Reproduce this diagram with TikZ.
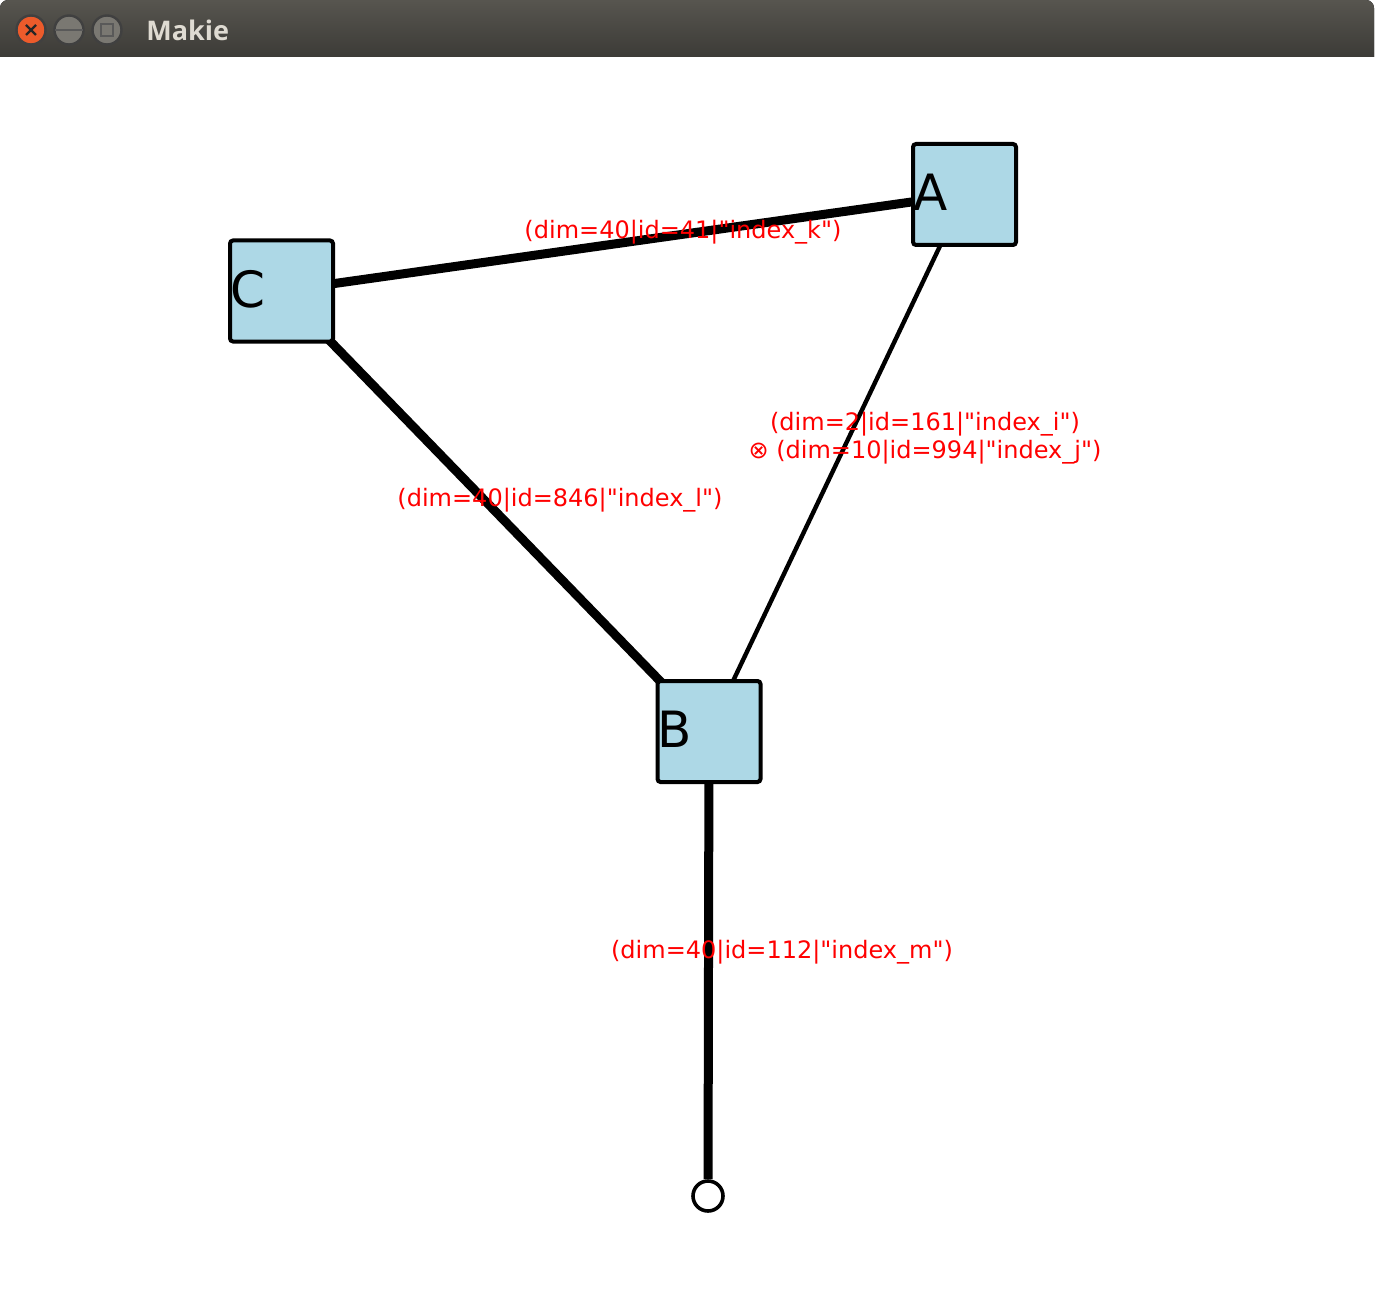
\documentclass[tikz,border=0pt]{standalone}
\usepackage{fontspec}
\usetikzlibrary{backgrounds}
\setmainfont{DejaVu Sans}
\newfontfamily\titlefont{Open Sans}
\definecolor{tensorblue}{HTML}{ADD8E6}
\definecolor{barTop}{HTML}{57554F}
\definecolor{barBot}{HTML}{3C3B37}
\definecolor{closeRed}{HTML}{EC5B2B}
\definecolor{btnGray}{HTML}{7A7872}
\definecolor{titleGray}{HTML}{DFDBD2}
\newcommand{\tname}[1]{\raisebox{2pt}{#1}}
\newcommand{\q}{\textquotedbl}

\begin{document}
\begin{tikzpicture}[x=0.5pt,y=-0.5pt,tensor/.style={draw,line width=2pt,fill=tensorblue,rounded corners=1.5pt,minimum width=51.5pt,minimum height=50.5pt,text width=51.5pt,inner sep=0pt,align=left,font=\fontsize{25}{25}\selectfont},leg/.style={line width=4.5pt},thinleg/.style={line width=2.2pt},idx/.style={text=red,inner sep=0pt,align=center,font=\fontsize{12}{15}\selectfont},btn/.style={circle,draw=black!75,line width=1.2pt,minimum size=14.5pt,inner sep=0pt}]
\useasboundingbox (0,0) rectangle (1376,1316);
% window title bar
\fill[top color=barTop,bottom color=barBot] (0,57) [rounded corners=4pt] -- (0,0) -- (1374,0) [sharp corners] -- (1374,57) -- cycle;
\node[btn,fill=closeRed] (close) at (31,30) {};
\node[btn,fill=btnGray] (mini) at (69,30) {};
\node[btn,fill=btnGray] (maxi) at (107,30) {};
\draw[line width=1.2pt,black!85] ([shift={(-5,-5)}]close.center) -- ([shift={(5,5)}]close.center) ([shift={(-5,5)}]close.center) -- ([shift={(5,-5)}]close.center);
\draw[line width=1.2pt,black!65] ([xshift=-7]mini.center) -- ([xshift=7]mini.center);
\draw[line width=1.2pt,black!65] ([shift={(-6,-6)}]maxi.center) rectangle ([shift={(6,6)}]maxi.center);
\node[anchor=west,inner sep=0pt,text=titleGray,font=\titlefont\bfseries\fontsize{13.5}{14}\selectfont] (title) at (146,30) {Makie};
% tensors
\node[tensor] (A) at (964.5,194.5) {\tname{A}};
\node[tensor] (C) at (281.5,291) {\tname{C}};
\node[tensor] (B) at (709,731.5) {\tname{B}};
\node[circle,draw,fill=white,line width=1.8pt,minimum size=15pt,inner sep=0pt] (open) at (708,1196) {};
% legs
\begin{scope}[on background layer]
\draw[leg] (C.center) -- (A.center);
\draw[leg] (C.center) -- (B.center);
\draw[thinleg] (A.center) -- (B.center);
\draw[leg] (B.center) -- (open);
\end{scope}
% index labels
\node[idx] (kLbl) at (683,232) {(dim=40|id=41|\q index\_k\q)};
\node[idx] (lLbl) at (560,500) {(dim=40|id=846|\q index\_l\q)};
\node[idx] (ijLbl) at (925,438) {(dim=2|id=161|\q index\_i\q)\\[-1pt]⊗ (dim=10|id=994|\q index\_j\q)};
\node[idx] (mLbl) at (782,952) {(dim=40|id=112|\q index\_m\q)};
\end{tikzpicture}
\end{document}
